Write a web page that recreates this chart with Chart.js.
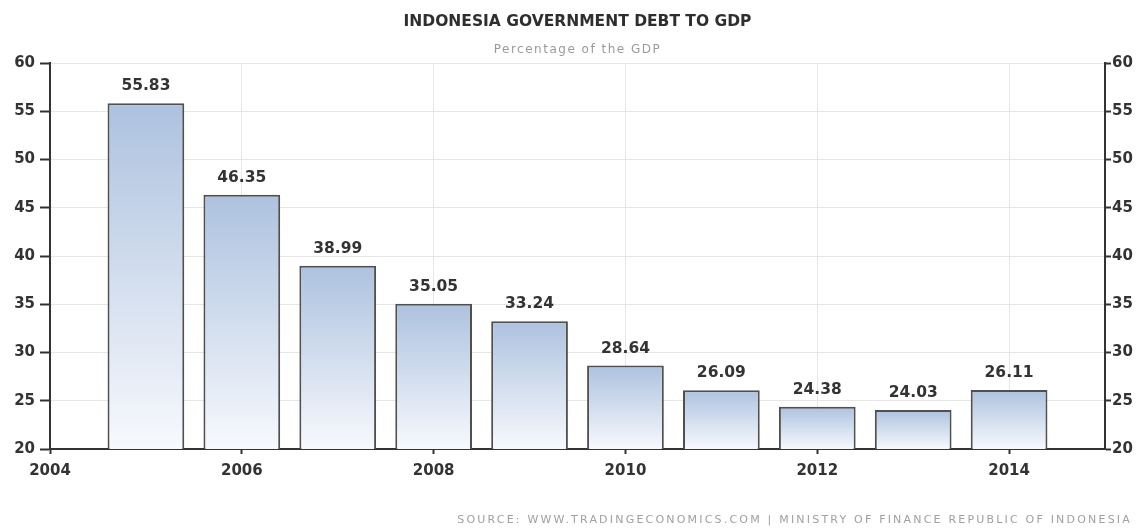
<!DOCTYPE html>
<html>
<head>
<meta charset="utf-8">
<script src="https://cdn.jsdelivr.net/npm/chart.js@4.4.1/dist/chart.umd.min.js"></script>
<style>
  html, body { margin: 0; padding: 0; background: #ffffff; }
  #wrap { width: 1145px; height: 529px; position: relative; }
</style>
</head>
<body>
<div id="wrap"><canvas id="c" width="1145" height="529"></canvas></div>
<script>
// Indonesia government debt, percent of GDP, by year
const years = [2005, 2006, 2007, 2008, 2009, 2010, 2011, 2012, 2013, 2014];
const debtToGdp = [55.83, 46.35, 38.99, 35.05, 33.24, 28.64, 26.09, 24.38, 24.03, 26.11];
const xTickYears = [2004, 2006, 2008, 2010, 2012, 2014];
const yTicks = [20, 25, 30, 35, 40, 45, 50, 55, 60];

const titleText = 'INDONESIA GOVERNMENT DEBT TO GDP';
const subtitleText = 'Percentage of the GDP';
const sourceText = 'SOURCE: WWW.TRADINGECONOMICS.COM | MINISTRY OF FINANCE REPUBLIC OF INDONESIA';

const AXIS = '#333333';
const GRID = '#e6e6e6';
const LABEL = '#333333';
const TICK_FONT = { family: 'DejaVu Sans', size: 15, weight: 'bold' };

// vertical gradient running from each bar's own top down to the baseline
function barGradient(ctx) {
  const chart = ctx.chart;
  const { chartArea, scales } = chart;
  if (!chartArea || ctx.raw == null) return '#b0c4e0';
  const top = scales.y.getPixelForValue(ctx.raw.y);
  const bottom = scales.y.getPixelForValue(scales.y.min);
  const g = chart.ctx.createLinearGradient(0, top, 0, bottom);
  g.addColorStop(0, '#adc2df');
  g.addColorStop(1, '#f7f9fd');
  return g;
}

// titles, source line and the value printed above every bar
const textPlugin = {
  id: 'textPlugin',
  afterDatasetsDraw(chart) {
    const ctx = chart.ctx;
    const area = chart.chartArea;
    const cx = (area.left + area.right) / 2;
    ctx.save();
    ctx.textAlign = 'center';
    ctx.textBaseline = 'middle';
    ctx.fillStyle = '#2e2e2e';
    ctx.font = 'bold 15.5px "DejaVu Sans"';
    ctx.fillText(titleText, cx, 22);
    ctx.fillStyle = '#9a9a9a';
    ctx.font = '12px "DejaVu Sans"';
    ctx.letterSpacing = '1.5px';
    ctx.fillText(subtitleText, cx, 50);
    ctx.letterSpacing = '0px';

    // value labels
    const meta = chart.getDatasetMeta(0);
    ctx.fillStyle = LABEL;
    ctx.font = 'bold 15.5px "DejaVu Sans"';
    ctx.textBaseline = 'alphabetic';
    meta.data.forEach((bar, i) => {
      ctx.fillText(debtToGdp[i].toFixed(2), bar.x, bar.y - 13);
    });

    // source line
    ctx.fillStyle = '#a0a0a0';
    ctx.font = '11px "DejaVu Sans"';
    ctx.textAlign = 'right';
    ctx.textBaseline = 'middle';
    ctx.letterSpacing = '2.2px';
    ctx.fillText(sourceText, 1132, 520);
    ctx.restore();
  }
};

new Chart(document.getElementById('c'), {
  type: 'bar',
  data: {
    datasets: [{
      data: years.map((yr, i) => ({ x: yr, y: debtToGdp[i] })),
      backgroundColor: barGradient,
      borderColor: '#505050',
      borderWidth: 2,
      borderSkipped: false,
      barPercentage: 0.8,
      categoryPercentage: 1.0
    }]
  },
  options: {
    responsive: false,
    animation: false,
    devicePixelRatio: 1,
    layout: { padding: { top: 63, left: 0, right: 0, bottom: 0 } },
    plugins: {
      legend: { display: false },
      tooltip: { enabled: false },
      title: { display: false }
    },
    scales: {
      x: {
        type: 'linear',
        min: 2004,
        max: 2015,
        offset: false,
        afterFit(s) { s.height = 80; },
        afterBuildTicks(s) { s.ticks = xTickYears.map(v => ({ value: v })); },
        grid: { offset: false, color: GRID, lineWidth: 1, tickColor: AXIS, tickLength: 5, tickWidth: 2 },
        border: { color: AXIS, width: 2 },
        ticks: {
          color: LABEL,
          font: TICK_FONT,
          padding: 8,
          maxRotation: 0,
          callback: v => String(v)
        }
      },
      y: {
        type: 'linear',
        position: 'left',
        min: 20,
        max: 60,
        afterFit(s) { s.width = 50; },
        afterBuildTicks(s) { s.ticks = yTicks.map(v => ({ value: v })); },
        grid: { color: GRID, lineWidth: 1, tickColor: AXIS, tickLength: 10, tickWidth: 2 },
        border: { color: AXIS, width: 2 },
        ticks: { color: LABEL, font: TICK_FONT, padding: 5 }
      },
      y2: {
        type: 'linear',
        position: 'right',
        min: 20,
        max: 60,
        afterFit(s) { s.width = 40; },
        afterBuildTicks(s) { s.ticks = yTicks.map(v => ({ value: v })); },
        grid: { drawOnChartArea: false, tickColor: AXIS, tickLength: 6, tickWidth: 2 },
        border: { color: AXIS, width: 2 },
        ticks: { color: LABEL, font: TICK_FONT, padding: 1 }
      }
    }
  },
  plugins: [textPlugin]
});
</script>
</body>
</html>
